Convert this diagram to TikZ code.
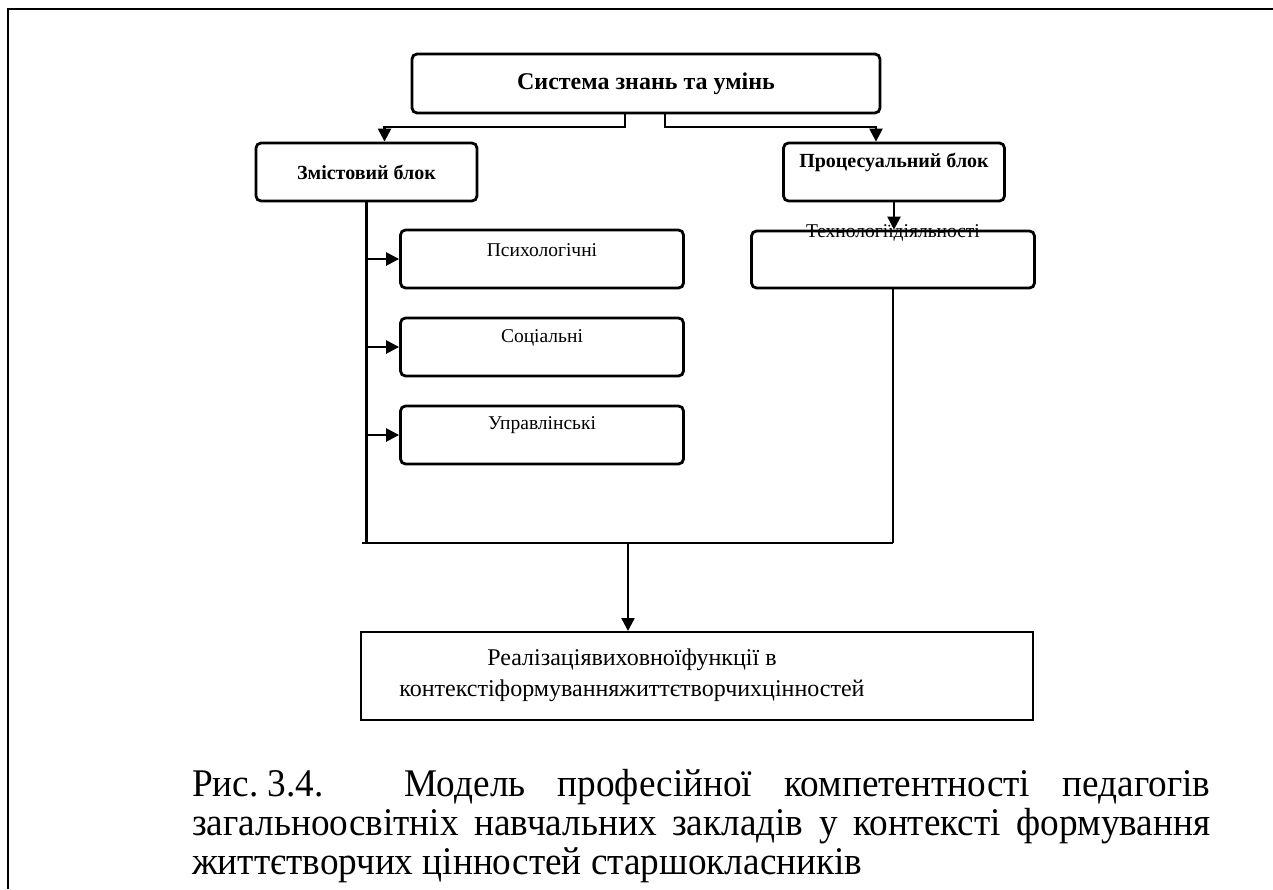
\documentclass[tikz,border=0pt]{standalone}
\usepackage{fontspec}
\setmainfont{Liberation Serif}
\newfontfamily\capfont[FakeStretch=0.95]{Liberation Serif}
\usetikzlibrary{arrows.meta}
\tikzset{
  rbox/.style={draw, line width=2.8pt, rounded corners=5pt, inner sep=0pt},
  sbox/.style={draw, line width=2pt, inner sep=0pt},
  conn/.style={line width=2.4pt},
  arr/.style={line width=2.4pt, -{Triangle[length=13pt,width=13pt]}},
  boldtxt/.style={font=\fontsize{20}{24}\selectfont\bfseries, inner sep=0pt},
  regtxt/.style={font=\fontsize{19.5}{23}\selectfont, inner sep=0pt},
  captxt/.style={font=\capfont\fontsize{39.2}{39}\selectfont, inner sep=0pt, anchor=base west},
}
\begin{document}
\begin{tikzpicture}[x=1pt,y=-1pt]
\useasboundingbox (0,0) rectangle (1273,889);
% outer frame
\draw[line width=2pt] (8,889) -- (8,9) -- (1273,9);

% top box
\node[rbox, minimum width=468pt, minimum height=59pt,
      font=\fontsize{24}{28}\selectfont\bfseries] (top) at (646,83.5) {Система знань та умінь};

% second level
\node[rbox, minimum width=221pt, minimum height=58pt, boldtxt] (zm) at (366.5,172) {Змістовий блок};
\node[rbox, minimum width=221pt, minimum height=58pt] (pr) at (894,172) {};
\node[boldtxt] (prt) at ([yshift=10pt]pr.center) {Процесуальний блок};

% left sub-boxes
\node[rbox, minimum width=283pt, minimum height=58pt] (psy) at (542,259) {};
\node[regtxt] (psyt) at ([yshift=9pt]psy.center) {Психологічні};
\node[rbox, minimum width=283pt, minimum height=58pt] (soc) at (542,347) {};
\node[regtxt] (soct) at ([yshift=9pt]soc.center) {Соціальні};
\node[rbox, minimum width=283pt, minimum height=58pt] (upr) at (542,435) {};
\node[regtxt] (uprt) at ([yshift=10pt]upr.center) {Управлінські};

% right sub-box
\node[rbox, minimum width=283pt, minimum height=57pt] (teh) at (893,259.5) {};
\node[regtxt] (teht) at ([yshift=-3pt]teh.north) {Технологіїдіяльності};

% bottom box
\node[sbox, minimum width=672pt, minimum height=88pt] (res) at (697,676) {};
\node[font=\fontsize{24}{31}\selectfont, align=center, inner sep=0pt] (rest) at (632,675)
  {Реалізаціявиховноїфункції в\\контекстіформуванняжиттєтворчихцінностей};

% connectors from top box
\coordinate (jl) at (625,127);
\coordinate (jr) at (665,127);
\draw[arr] (top.south -| jl) -- (jl) -| ([xshift=18pt]zm.north);
\draw[arr] (top.south -| jr) -- (jr) -| ([xshift=-18pt]pr.north);

% procedural chain
\draw[arr] (pr.south) -- (pr.south |- teh.north);

% left spine and branches
\coordinate (bl) at (362,543);
\coordinate (br) at (893,543);
\coordinate (mid) at (628,543);
\draw[conn] (zm.south) -- (zm.south |- bl);
\draw[arr] (zm.south |- psy.west) -- (psy.west);
\draw[arr] (zm.south |- soc.west) -- (soc.west);
\draw[arr] (zm.south |- upr.west) -- (upr.west);

% right spine and bottom bar
\draw[conn] (teh.south) -- (teh.south |- br);
\draw[conn] (bl) -- (br);
\draw[arr] (mid) -- (mid |- res.north);

% caption
\node[captxt] (c1) at (192,796) {\makebox[1018pt][s]{Рис.\kern9pt3.4. Модель професійної компетентності педагогів}};
\node[captxt] (c2) at (192,835) {\makebox[1018pt][s]{загальноосвітніх навчальних закладів у контексті формування}};
\node[captxt] (c3) at (192,874) {життєтворчих цінностей старшокласників};
\end{tikzpicture}
\end{document}
